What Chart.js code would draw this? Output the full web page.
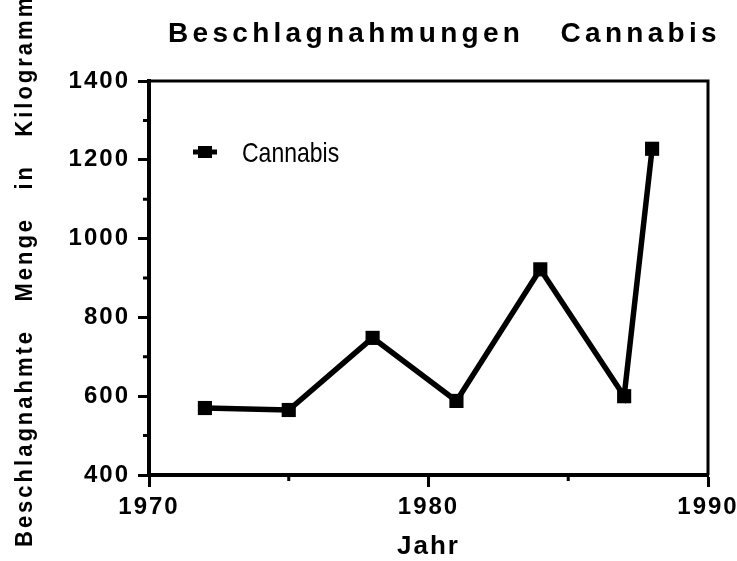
<!DOCTYPE html>
<html>
<head>
<meta charset="utf-8">
<script src="https://cdn.jsdelivr.net/npm/chart.js@4.4.1/dist/chart.umd.min.js"></script>
<style>
  html, body { margin: 0; padding: 0; background: #fff; }
  canvas { display: block; }
</style>
</head>
<body>
<canvas id="chart" width="737" height="561"></canvas>
<script>
// values
const years = [1972, 1975, 1978, 1981, 1984, 1987, 1988];
const amounts = [570, 565, 748, 588, 922, 600, 1228];
const seriesName = "Cannabis";
const chartTitle = "Beschlagnahmungen   Cannabis";
const yTitle = "Beschlagnahmte   Menge   in   Kilogramm";
const xTitle = "Jahr";
const xMinorTicks = [1975, 1985];
const yMinorTicks = [500, 700, 900, 1100, 1300];

const FONT = "'Liberation Sans', Arial, Helvetica, sans-serif";

// frame, minor ticks, legend and the two big titles
const decor = {
    id: "decor",
    beforeDraw(chart) {
        chart.ctx.letterSpacing = "2px";
    },
    afterDraw(chart) {
        const ctx = chart.ctx;
        const a = chart.chartArea;
        const x = chart.scales.x;
        const y = chart.scales.y;
        ctx.save();
        ctx.strokeStyle = "#000";
        ctx.fillStyle = "#000";
        ctx.lineWidth = 3;
        ctx.beginPath();
        ctx.moveTo(a.left, a.top);
        ctx.lineTo(a.right, a.top);
        ctx.lineTo(a.right, a.bottom);
        ctx.stroke();

        ctx.beginPath();
        xMinorTicks.forEach(function (v) {
            const px = x.getPixelForValue(v);
            ctx.moveTo(px, a.bottom);
            ctx.lineTo(px, a.bottom + 6);
        });
        yMinorTicks.forEach(function (v) {
            const py = y.getPixelForValue(v);
            ctx.moveTo(a.left - 6, py);
            ctx.lineTo(a.left, py);
        });
        ctx.stroke();

        // legend inside the plot
        const ly = a.top + 71;
        ctx.lineWidth = 5;
        ctx.beginPath();
        ctx.moveTo(a.left + 44, ly);
        ctx.lineTo(a.left + 68, ly);
        ctx.stroke();
        ctx.fillRect(a.left + 49, ly - 6, 14, 12);
        ctx.save();
        ctx.letterSpacing = "0px";
        ctx.font = "23px " + FONT;
        ctx.textAlign = "left";
        ctx.textBaseline = "alphabetic";
        ctx.translate(a.left + 93, ly + 10);
        ctx.scale(1, 1.2);
        ctx.fillText(seriesName, 0, 0);
        ctx.restore();

        // main title
        ctx.letterSpacing = "4.3px";
        ctx.font = "bold 28px " + FONT;
        ctx.textAlign = "left";
        ctx.textBaseline = "alphabetic";
        ctx.fillText(chartTitle, a.left + 19, 42);

        // y axis title
        ctx.translate(32, 547);
        ctx.rotate(-Math.PI / 2);
        ctx.scale(1, 1.1);
        ctx.letterSpacing = "3px";
        ctx.font = "bold 22px " + FONT;
        ctx.fillText(yTitle, 0, 0);
        ctx.restore();
    }
};

const points = years.map(function (yr, i) {
    return { x: yr, y: amounts[i] };
});

new Chart(document.getElementById("chart"), {
    type: "line",
    data: {
        datasets: [
            {
                label: seriesName,
                data: points,
                borderColor: "#000",
                borderWidth: 5.5,
                backgroundColor: "#000",
                pointStyle: "rect",
                pointRadius: 10,
                pointBorderWidth: 0,
                pointBackgroundColor: "#000",
                tension: 0,
            },
        ],
    },
    plugins: [decor],
    options: {
        responsive: false,
        animation: false,
        layout: {
            padding: { top: 81, right: 29, bottom: 0, left: 0 },
        },
        plugins: {
            legend: { display: false },
            tooltip: { enabled: false },
        },
        scales: {
            x: {
                type: "linear",
                min: 1970,
                max: 1990,
                ticks: {
                    stepSize: 10,
                    color: "#000",
                    padding: 6,
                    font: { family: FONT, size: 24, weight: "bold" },
                    callback: function (v) {
                        return String(v);
                    },
                },
                grid: {
                    drawOnChartArea: false,
                    tickLength: 12,
                    tickWidth: 3,
                    tickColor: "#000",
                },
                border: { color: "#000", width: 4 },
                title: {
                    display: true,
                    text: xTitle,
                    color: "#000",
                    font: { family: FONT, size: 26, weight: "bold", lineHeight: 1 },
                    padding: { top: 0, bottom: 1 },
                },
                afterFit: function (s) {
                    s.height = 86;
                    s.paddingLeft = 0;
                    s.paddingRight = 0;
                },
            },
            y: {
                min: 400,
                max: 1400,
                ticks: {
                    stepSize: 200,
                    color: "#000",
                    padding: 8,
                    font: { family: FONT, size: 24, weight: "bold" },
                    callback: function (v) {
                        return String(v);
                    },
                },
                grid: {
                    drawOnChartArea: false,
                    tickLength: 11,
                    tickWidth: 3,
                    tickColor: "#000",
                },
                border: { color: "#000", width: 4 },
                afterFit: function (s) {
                    s.width = 149;
                    s.paddingTop = 0;
                    s.paddingBottom = 0;
                },
            },
        },
    },
});
</script>
</body>
</html>
